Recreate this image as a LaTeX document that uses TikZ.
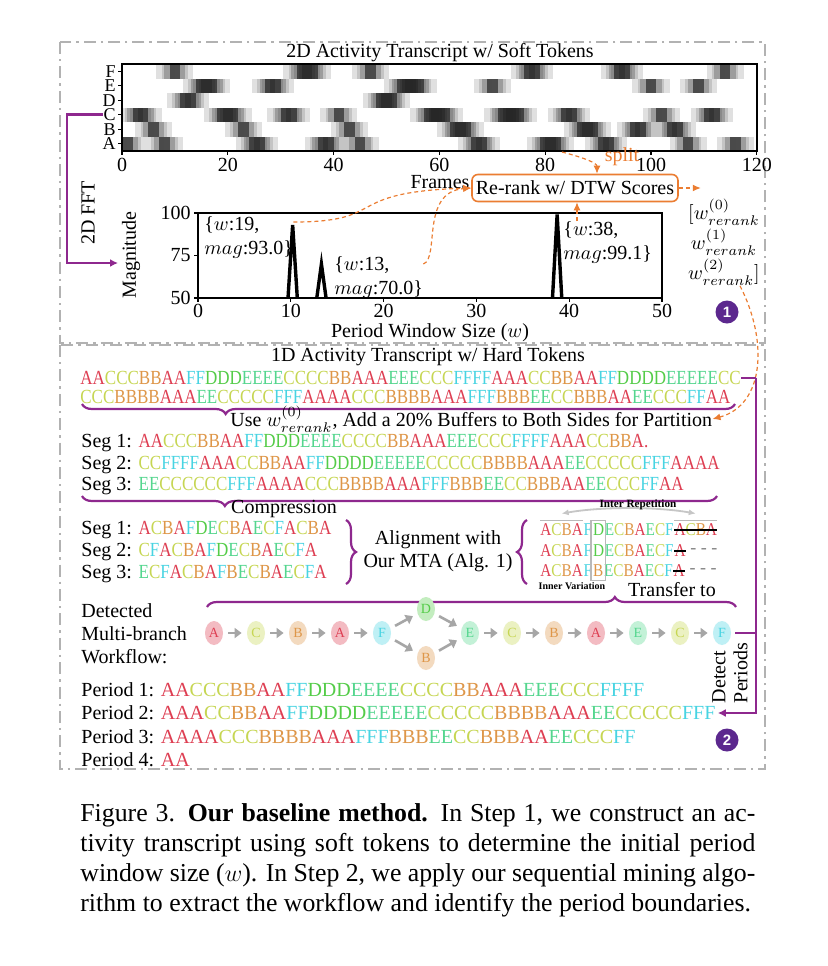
\documentclass[tikz,border=0pt]{standalone}
\usepackage{fontspec}
\setmainfont{Liberation Serif}
\setsansfont{Liberation Sans}
\newfontfamily\seqfont{Liberation Serif}[FakeStretch=0.85]
\usetikzlibrary{positioning, arrows.meta, shapes.geometric, decorations.pathreplacing}

\definecolor{tokA}{RGB}{222,62,82}
\definecolor{tokB}{RGB}{222,150,72}
\definecolor{tokC}{RGB}{198,214,82}
\definecolor{tokD}{RGB}{84,204,72}
\definecolor{tokE}{RGB}{84,214,142}
\definecolor{tokF}{RGB}{72,212,226}
\definecolor{linkpurple}{RGB}{142,40,142}
\definecolor{badgepurple}{RGB}{92,40,142}
\definecolor{dtworange}{RGB}{235,125,50}

% colour every token letter
\newcommand{\tokseq}[1]{\edef\tokarg{#1}\expandafter\tokloop\tokarg\relax}
\def\tokloop#1{\ifx#1\relax\else\textcolor{tok#1}{#1}\expandafter\tokloop\fi}

\tikzset{
  panel/.style={draw=gray!60, line width=1pt, dash pattern=on 6pt off 2.5pt on 1.2pt off 2.5pt},
  purpleline/.style={draw=linkpurple, line width=1.3pt},
  purplearrow/.style={purpleline, -{Latex[length=4pt,width=4pt]}},
  dtw/.style={draw=dtworange, line width=0.6pt, dash pattern=on 2pt off 1.5pt, -{Latex[length=4pt,width=3.5pt]}},
  tok/.style={ellipse, minimum width=9pt, minimum height=12pt, fill=#1!35, text=#1, font=\fontsize{7}{7}\selectfont},
  flow/.style={draw=gray!70, line width=1.3pt, shorten <=2.5pt, shorten >=2.5pt, -{Triangle[length=3.5pt,width=5pt]}},
  badge/.style={circle, fill=badgepurple, text=white, minimum size=11.5pt, font=\sffamily\bfseries\fontsize{7.5}{8}\selectfont},
  curly/.style={draw=linkpurple, line width=1.1pt, decorate, decoration={brace, amplitude=5pt}},
  seqline/.style={anchor=west, font=\seqfont\fontsize{10}{12}\selectfont},
  alignseq/.style={font=\seqfont\fontsize{9}{10}\selectfont},
  smallbold/.style={font=\bfseries\fontsize{5.6}{6}\selectfont}
}

\begin{document}
\begin{tikzpicture}[x=0.5pt, y=-0.5pt, font=\fontsize{10}{12}\selectfont, every node/.style={inner sep=0pt}]
  \useasboundingbox[fill=white] (0,0) rectangle (827,966);
  \def\fw{5.29}
  \def\rh{14.5}
  \def\px{9.28}
  \def\py{1.7}
  \def\rowF{0}\def\rowE{1}\def\rowD{2}\def\rowC{3}\def\rowB{4}\def\rowA{5}

  % Step 1 panel
  \draw[panel] (60,42) rectangle (765,343);
  \node (soft-title) at (440,53) {2D Activity Transcript w/ Soft Tokens};

  % soft tokens
  \begin{scope}
    \clip (122,64) rectangle (757,151);
    \foreach \tk [count=\i from 0] in {A,A,C,C,C,B,B,A,A,F,F,D,D,D,E,E,E,E,C,C,C,C,B,B,A,A,A,E,E,E,C,C,C,F,F,F,F,A,A,A,C,C,B,B,A,A,F,F,D,D,D,D,E,E,E,E,E,C,C,
      C,C,C,B,B,B,B,A,A,A,E,E,C,C,C,C,C,F,F,F,A,A,A,A,C,C,C,B,B,B,B,A,A,A,F,F,F,B,B,B,E,E,C,C,B,B,B,A,A,E,E,C,C,C,F,F,A,A}{
      \edef\rw{\csname row\tk\endcsname}
      \fill[black, fill opacity=0.12] ({122+(\i-2.5)*\fw},{64+\rw*\rh}) rectangle ++({6*\fw},\rh);
      \fill[black, fill opacity=0.2] ({122+(\i-1)*\fw},{64+\rw*\rh}) rectangle ++({3*\fw},\rh);
      \fill[black, fill opacity=0.4] ({122+\i*\fw},{64+\rw*\rh}) rectangle ++(\fw,\rh);
    }
  \end{scope}
  \draw[line width=0.8pt] (122,64) rectangle (757,151);
  \foreach \lt [count=\k from 0] in {F,E,D,C,B,A}{
    \draw[line width=0.6pt] (122,{64+(\k+0.5)*\rh}) -- ++(-4,0);
    \node[anchor=east, font=\fontsize{9}{10}\selectfont] (row-\lt) at (116,{64+(\k+0.5)*\rh}) {\lt};
  }
  \foreach \v in {0,20,...,120}{
    \draw[line width=0.6pt] ({122+\v*\fw},151) -- ++(0,4);
    \node[anchor=north] (fr-\v) at ({122+\v*\fw},158) {\v};
  }
  \node (frames) at (440,182) {Frames};

  % spectrum
  \draw[line width=0.8pt] (198,213) rectangle (662,298);
  \foreach \v in {50,75,100}{
    \draw[line width=0.6pt] (198,{298-(\v-50)*\py}) -- ++(-4,0);
    \node[anchor=east] (mag-\v) at (191,{298-(\v-50)*\py}) {\v};
  }
  \foreach \v in {0,10,...,50}{
    \draw[line width=0.6pt] ({198+\v*\px},298) -- ++(0,4);
    \node[anchor=north] (win-\v) at ({198+\v*\px},304) {\v};
  }
  \foreach \w/\m in {10.2/93.0,13.3/70.0,38.7/99.1}
    \draw[line width=1.7pt] ({198+(\w-0.5)*\px},298) -- ({198+\w*\px},{298-(\m-50)*\py}) -- ({198+(\w+0.5)*\px},298);
  \node (win-label) at (430,333) {Period Window Size ($w$)};
  \node[rotate=90] (mag-label) at (131,255) {Magnitude};

  \node[align=left, anchor=north west] (pk19) at (204,216) {\{$w$:19,\\$mag$:93.0\}};
  \node[align=left, anchor=north west] (pk13) at (334,256) {\{$w$:13,\\$mag$:70.0\}};
  \node[align=left, anchor=north west] (pk38) at (563,221) {\{$w$:38,\\$mag$:99.1\}};

  % re-rank
  \node[draw=dtworange, rounded corners=3pt, line width=0.8pt, minimum width=103pt, minimum height=13.5pt] (rerank) at (575,188) {Re-rank w/ DTW Scores};
  \node[align=center, font=\fontsize{10}{15}\selectfont] (wlist) at (724,242) {$[w^{(0)}_{rerank}$\\$w^{(1)}_{rerank}$\\$w^{(2)}_{rerank}]$};
  \node[text=dtworange] (split) at (622,157) {split};
  \coordinate (split-from) at (562,152);
  \draw[dtw] (split-from) .. controls (585,158) and (597,163) .. ([xshift=11pt]rerank.north);
  \draw[dtw] ([yshift=-3pt]pk19.north east) .. controls (390,222) and (340,192) .. (rerank.west);
  \draw[dtw] ([yshift=-4pt]pk13.north east) .. controls (440,258) and (420,192) .. (rerank.west);
  \draw[dtw] ([xshift=7pt]pk38.north west) -- ([xshift=7pt]pk38.north west |- rerank.south);
  \draw[dtw] (rerank.east) -- ++(22,0);

  % 2D FFT link
  \node[rotate=90] (fft) at (88,213) {2D FFT};
  \coordinate (fft-turn) at (67,115);
  \coordinate (fft-end) at (118,263);
  \draw[purplearrow] (row-C.west) -- (row-C.west -| fft-turn) |- (fft-end);

  \node[badge] (step1) at (727,312) {1};

  % Step 2 panel
  \draw[panel] (60,345) rectangle (765,769);
  \node (hard-title) at (428,357) {1D Activity Transcript w/ Hard Tokens};
  \node[seqline] (hard1) at (80,378) {\tokseq{AACCCBBAAFFDDDEEEECCCCBBAAAEEECCCFFFFAAACCBBAAFFDDDDEEEEECC}};
  \node[seqline] (hard2) at (80,397) {\tokseq{CCCBBBBAAAEECCCCCFFFAAAACCCBBBBAAAFFFBBBEECCBBBAAEECCCFFAA}};
  \draw[curly, decoration={mirror, aspect=0.22}] (82,404) -- (735,404);
  \node[anchor=west] (partition) at (230,419) {Use $w^{(0)}_{rerank}$, Add a 20\% Buffers to Both Sides for Partition};
  \draw[dtw] ([xshift=8pt]wlist.south) .. controls (768,340) and (765,405) .. (partition.east);

  % segments
  \node[anchor=west] (seg-1) at (81,443) {Seg 1: {\seqfont\tokseq{AACCCBBAAFFDDDEEEECCCCBBAAAEEECCCFFFFAAACCBBA}\textcolor{tokA}{.}}};
  \node[anchor=west] (seg-2) at (81,465) {Seg 2: {\seqfont\tokseq{CCFFFFAAACCBBAAFFDDDDEEEEECCCCCBBBBAAAEECCCCCFFFAAAA}}};
  \node[anchor=west] (seg-3) at (81,486) {Seg 3: {\seqfont\tokseq{EECCCCCCFFFAAAACCCBBBBAAAFFFBBBEECCBBBAAEECCCFFAA}}};
  \draw[curly, decoration={mirror, aspect=0.225}] (82,496) -- (717,496);
  \node (compress) at (284,509) {Compression};

  % compressed segments
  \node[anchor=west] (cseg-1) at (81,530) {Seg 1: {\seqfont\tokseq{ACBAFDECBAECFACBA}}};
  \node[anchor=west] (cseg-2) at (81,552) {Seg 2: {\seqfont\tokseq{CFACBAFDECBAECFA}}};
  \node[anchor=west] (cseg-3) at (81,574) {Seg 3: {\seqfont\tokseq{ECFACBAFBECBAECFA}}};
  \draw[curly] (346,520) -- (346,584);
  \node[align=center, font=\fontsize{10}{11.5}\selectfont] (mta) at (438,551) {Alignment with\\Our MTA (Alg. 1)};
  \draw[curly] (527,584) -- (527,520);

  % aligned rows
  \foreach \n/\v/\yy in {1/D/530, 2/D/551, 3/B/571}{
    \node[alignseq, anchor=west] (al\n-a) at (540,\yy) {\tokseq{ACBA}};
    \node[alignseq, right=0pt of al\n-a] (al\n-f) {\tokseq{F}};
    \node[alignseq, right=0pt of al\n-f] (al\n-var) {\tokseq{\v}};
    \node[alignseq, right=0pt of al\n-var] (al\n-post) {\tokseq{ECBAECF}};
  }
  \node[alignseq, right=0pt of al1-post] (al1-rep) {\tokseq{ACBA}};
  \node[alignseq, right=0pt of al2-post] (al2-rep) {\tokseq{A}};
  \node[alignseq, right=0pt of al3-post] (al3-rep) {\tokseq{A}};
  \foreach \n in {1,2,3}
    \draw[line width=0.7pt] (al\n-rep.west) -- (al\n-rep.east);
  \node[anchor=west, text=gray, font=\fontsize{9}{10}\selectfont] (al2-gap) at ([xshift=2pt]al2-rep.east) {- - -};
  \node[anchor=west, text=gray, font=\fontsize{9}{10}\selectfont] (al3-gap) at ([xshift=2pt]al3-rep.east) {- - -};
  \draw[gray!55, line width=0.7pt] ([yshift=1.5pt]al1-a.north west) -- ([yshift=1.5pt]al1-a.north east);
  \draw[gray!55, line width=0.7pt] ([yshift=1.5pt]al1-rep.north west) -- ([yshift=1.5pt]al1-rep.north east);
  \draw[gray!55, line width=0.6pt] ([shift={(-0.8pt,1.5pt)}]al1-var.north west) rectangle ([shift={(0.8pt,-1.5pt)}]al3-var.south east);
  \draw[gray!45, line width=0.9pt, {Latex[length=3.5pt,width=3pt]}-{Latex[length=3.5pt,width=3pt]}] ([yshift=5pt]al1-a.north) .. controls +(40,-7) and +(-40,-7) .. ([yshift=5pt]al1-rep.north);
  \node[smallbold] (inter-rep) at (638,505) {Inter Repetition};
  \node[smallbold, font=\bfseries\fontsize{5}{6}\selectfont] (inner-var) at (572,586) {Inner Variation};
  \node (transfer) at (672,590) {Transfer to};
  \draw[curly, decoration={aspect=0.771}] (207,607) -- (736,607);

  % workflow
  \node[align=left, anchor=west, font=\fontsize{10}{11.5}\selectfont] (wf-label) at (81,634) {Detected\\Multi-branch\\Workflow:};
  \foreach \n/\tk/\xx in {1/A/214, 2/C/256, 3/B/298, 4/A/340, 5/F/382, 8/E/470, 9/C/512, 10/B/554, 11/A/596, 12/E/638, 13/C/680, 14/F/722}
    \node[tok=tok\tk] (wf-\n) at (\xx,633) {\tk};
  \node[tok=tokD] (wf-6) at (426,609) {D};
  \node[tok=tokB] (wf-7) at (426,658) {B};
  \foreach \a/\b in {1/2, 2/3, 3/4, 4/5, 5/6, 5/7, 6/8, 7/8, 8/9, 9/10, 10/11, 11/12, 12/13, 13/14}
    \draw[flow] (wf-\a) -- (wf-\b);

  % periods
  \node[anchor=west] (per-1) at (81,690) {Period 1: \tokseq{AACCCBBAAFFDDDEEEECCCCBBAAAEEECCCFFFF}};
  \node[anchor=west] (per-2) at (81,713) {Period 2: \tokseq{AAACCBBAAFFDDDDEEEEECCCCCBBBBAAAEECCCCCFFF}};
  \node[anchor=west] (per-3) at (81,737) {Period 3: \tokseq{AAAACCCBBBBAAAFFFBBBEECCBBBAAEECCCFF}};
  \node[anchor=west] (per-4) at (81,760) {Period 4: \tokseq{AA}};

  % detect periods rail
  \coordinate (rail-top) at (756,378);
  \draw[purpleline] (hard1.east) -- (rail-top);
  \draw[purpleline, shorten <=2pt] (wf-14.east) -- (wf-14.east -| rail-top);
  \draw[purplearrow] (rail-top) |- ([xshift=1pt]per-2.east);
  \node[rotate=90, align=left, font=\fontsize{10}{11}\selectfont] (detect) at (730,673) {Detect\\Periods};
  \node[badge] (step2) at (727,740) {2};

  % caption
  \node[anchor=north west, text width=337.5pt, align=justify, font=\fontsize{12.9}{15}\selectfont] (caption) at (80,803) {Figure 3. \textbf{Our baseline method.} In Step 1, we construct an ac-\linebreak tivity transcript using soft tokens to determine the initial period\linebreak window size ($w$). In Step 2, we apply our sequential mining algo-\linebreak rithm to extract the workflow and identify the period boundaries.};
\end{tikzpicture}
\end{document}
